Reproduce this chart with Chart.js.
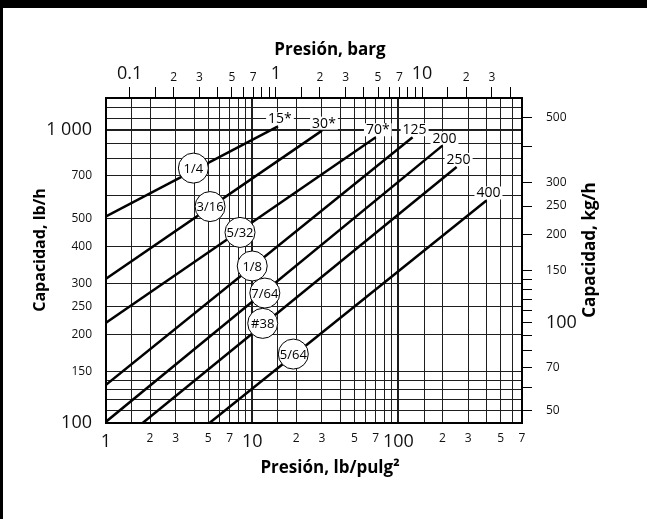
<!DOCTYPE html>
<html>
<head>
<meta charset="utf-8">
<script src="https://cdn.jsdelivr.net/npm/chart.js@4"></script>
<style>
  html, body { margin: 0; padding: 0; background: #fff; }
</style>
</head>
<body>
<canvas id="myChart" width="647" height="519"></canvas>
<script>
// axis ticks
const psiTicks = [1, 1.5, 2, 3, 4, 5, 6, 7, 8, 9, 10, 15, 20, 30, 40, 50, 60, 70, 80, 90, 100, 150, 200, 300, 400, 500, 600, 700];
const bargTicks = [0.1, 0.15, 0.2, 0.3, 0.4, 0.5, 0.6, 0.7, 0.8, 0.9, 1, 1.5, 2, 3, 4, 5, 6, 7, 8, 9, 10, 15, 20, 30, 40];
const lbTicks = [100, 110, 120, 130, 140, 150, 200, 250, 300, 400, 500, 600, 700, 800, 900, 1000, 1100, 1200];
const lbLabels = [100, 150, 200, 250, 300, 400, 500, 700, 1000];
const kgTicks = [50, 60, 70, 80, 90, 100, 110, 120, 130, 140, 150, 200, 250, 300, 400, 500];
const kgLabels = [50, 70, 100, 150, 200, 250, 300, 500];

const psiPerBar = 14.5038;
const kgPerLb = 0.45359;
const psiMin = 1, psiMax = 700;
const lbMin = 100, lbMax = 1290;

// capacity lines (start / end points, lb/pulg2 vs lb/h)
const lineNames = ['15*', '30*', '70*', '125', '200', '250', '400'];
const startPsi = [1, 1, 1, 1, 1, 1.78, 5.1];
const startLb = [508, 311, 220, 135, 101, 100, 100];
const endPsi = [15, 30, 70, 125, 200, 250, 400];
const endLb = [1032, 998, 947, 947, 887, 750, 576];

// orifice markers
const orificeNames = ['1/4', '3/16', '5/32', '1/8', '7/64', '#38', '5/64'];
const orificePsi = [3.96, 5.15, 8.25, 10.0, 12.2, 11.8, 19.1];
const orificeLb = [743, 549, 448, 344, 278, 219, 172];

const fontFamily = "'Open Sans', sans-serif";
const bigFont = { family: fontFamily, size: 18 };
const smallFont = { family: fontFamily, size: 12 };

function mant(v) {
    const e = Math.floor(Math.log10(v) + 1e-9);
    return Math.round(v / Math.pow(10, e) * 10) / 10;
}
function logLabel(v) {
    const m = mant(v);
    if (m === 1) return String(v);
    if ([2, 3, 5, 7].includes(m)) return String(m);
    return '';
}
function setTicks(list) {
    return function (scale) {
        scale.ticks = list.map(v => ({ value: v }));
    };
}

const datasets = [];
for (let i = 0; i < lineNames.length; i++) {
    datasets.push({
        type: 'line',
        label: lineNames[i],
        data: [{ x: startPsi[i], y: startLb[i] }, { x: endPsi[i], y: endLb[i] }],
        borderColor: '#000',
        borderWidth: 2.5,
        pointRadius: 0,
        fill: false,
        order: 2
    });
}
datasets.push({
    type: 'scatter',
    label: 'orificios',
    data: orificePsi.map((p, i) => ({ x: p, y: orificeLb[i] })),
    pointRadius: 15,
    pointBackgroundColor: '#fff',
    pointBorderColor: '#000',
    pointBorderWidth: 1,
    order: 1
});

const gridColor = '#1e1e1e';

function drawTitle(ctx, text, x, y, size, rotate) {
    ctx.save();
    ctx.font = 'bold ' + size + 'px ' + fontFamily;
    ctx.fillStyle = '#000';
    ctx.textAlign = 'center';
    ctx.textBaseline = 'middle';
    ctx.translate(x, y);
    if (rotate) ctx.rotate(-Math.PI / 2);
    ctx.fillText(text, 0, 0);
    ctx.restore();
}

const textPlugin = {
    id: 'texts',
    afterDatasetsDraw(chart) {
        const ctx = chart.ctx;
        ctx.save();
        // line end labels
        ctx.font = '14px ' + fontFamily;
        ctx.textAlign = 'center';
        ctx.textBaseline = 'middle';
        for (let i = 0; i < lineNames.length; i++) {
            const pts = chart.getDatasetMeta(i).data;
            const p = pts[pts.length - 1];
            const tx = p.x + 2, ty = p.y - 7;
            const w = ctx.measureText(lineNames[i]).width;
            ctx.fillStyle = '#fff';
            ctx.fillRect(tx - w / 2 - 2, ty - 7, w + 4, 13);
            ctx.fillStyle = '#000';
            ctx.fillText(lineNames[i], tx, ty);
        }
        // orifice circle labels
        ctx.font = '13px ' + fontFamily;
        const meta = chart.getDatasetMeta(lineNames.length);
        meta.data.forEach((el, i) => {
            ctx.fillText(orificeNames[i], el.x, el.y + 1);
        });
        ctx.restore();
    },
    afterDraw(chart) {
        const ctx = chart.ctx;
        ctx.save();
        ctx.fillStyle = '#000';
        ctx.fillRect(0, 0, 647, 8);
        ctx.fillRect(0, 0, 3, 519);
        ctx.restore();
        drawTitle(ctx, 'Presión, barg', 330, 50, 17, false);
        drawTitle(ctx, 'Presión, lb/pulg²', 330, 468, 17, false);
        drawTitle(ctx, 'Capacidad, lb/h', 40, 250, 16, true);
        drawTitle(ctx, 'Capacidad, kg/h', 590, 250, 17, true);
    }
};

const ctx = document.getElementById('myChart').getContext('2d');
const myChart = new Chart(ctx, {
    data: { datasets: datasets },
    options: {
        responsive: false,
        animation: false,
        layout: { padding: 0 },
        plugins: { legend: { display: false }, tooltip: { enabled: false } },
        scales: {
            x: {
                type: 'logarithmic',
                position: 'bottom',
                min: psiMin,
                max: psiMax,
                afterBuildTicks: setTicks(psiTicks),
                afterFit: s => { s.height = 96; },
                border: { display: true, color: '#000', width: 2 },
                grid: {
                    color: gridColor,
                    lineWidth: c => (c.tick && (c.tick.value === 10 || c.tick.value === 100)) ? 2 : 1,
                    drawTicks: false
                },
                ticks: {
                    autoSkip: false,
                    maxRotation: 0,
                    padding: 8,
                    color: '#111',
                    callback: v => logLabel(v),
                    font: c => (c.tick && mant(c.tick.value) === 1) ? bigFont : smallFont
                }
            },
            x2: {
                type: 'logarithmic',
                position: 'top',
                min: psiMin / psiPerBar,
                max: psiMax / psiPerBar,
                afterBuildTicks: setTicks(bargTicks),
                afterFit: s => { s.height = 98; },
                border: { display: true, color: '#000', width: 2 },
                grid: {
                    drawOnChartArea: false,
                    drawTicks: true,
                    tickLength: 11,
                    tickColor: '#000',
                    lineWidth: 1
                },
                ticks: {
                    autoSkip: false,
                    maxRotation: 0,
                    padding: 2,
                    color: '#111',
                    callback: v => logLabel(v),
                    font: c => (c.tick && mant(c.tick.value) === 1) ? bigFont : smallFont
                }
            },
            y: {
                type: 'logarithmic',
                position: 'left',
                min: lbMin,
                max: lbMax,
                afterBuildTicks: setTicks(lbTicks),
                afterFit: s => { s.width = 106; },
                border: { display: true, color: '#000', width: 2 },
                grid: {
                    color: gridColor,
                    lineWidth: c => (c.tick && c.tick.value === 1000) ? 2 : 1,
                    drawTicks: false
                },
                ticks: {
                    autoSkip: false,
                    padding: 14,
                    color: '#111',
                    callback: v => lbLabels.includes(v) ? (v === 1000 ? '1 000' : String(v)) : '',
                    font: c => (c.tick && (c.tick.value === 100 || c.tick.value === 1000)) ? bigFont : smallFont
                }
            },
            y2: {
                type: 'logarithmic',
                position: 'right',
                min: lbMin * kgPerLb,
                max: lbMax * kgPerLb,
                afterBuildTicks: setTicks(kgTicks),
                afterFit: s => { s.width = 125; },
                border: { display: true, color: '#000', width: 2 },
                grid: {
                    drawOnChartArea: false,
                    drawTicks: true,
                    tickLength: 10,
                    tickColor: '#000',
                    lineWidth: 1
                },
                ticks: {
                    autoSkip: false,
                    padding: 14,
                    color: '#111',
                    callback: v => kgLabels.includes(v) ? String(v) : '',
                    font: c => (c.tick && c.tick.value === 100) ? bigFont : smallFont
                }
            }
        }
    },
    plugins: [textPlugin]
});
</script>
</body>
</html>
